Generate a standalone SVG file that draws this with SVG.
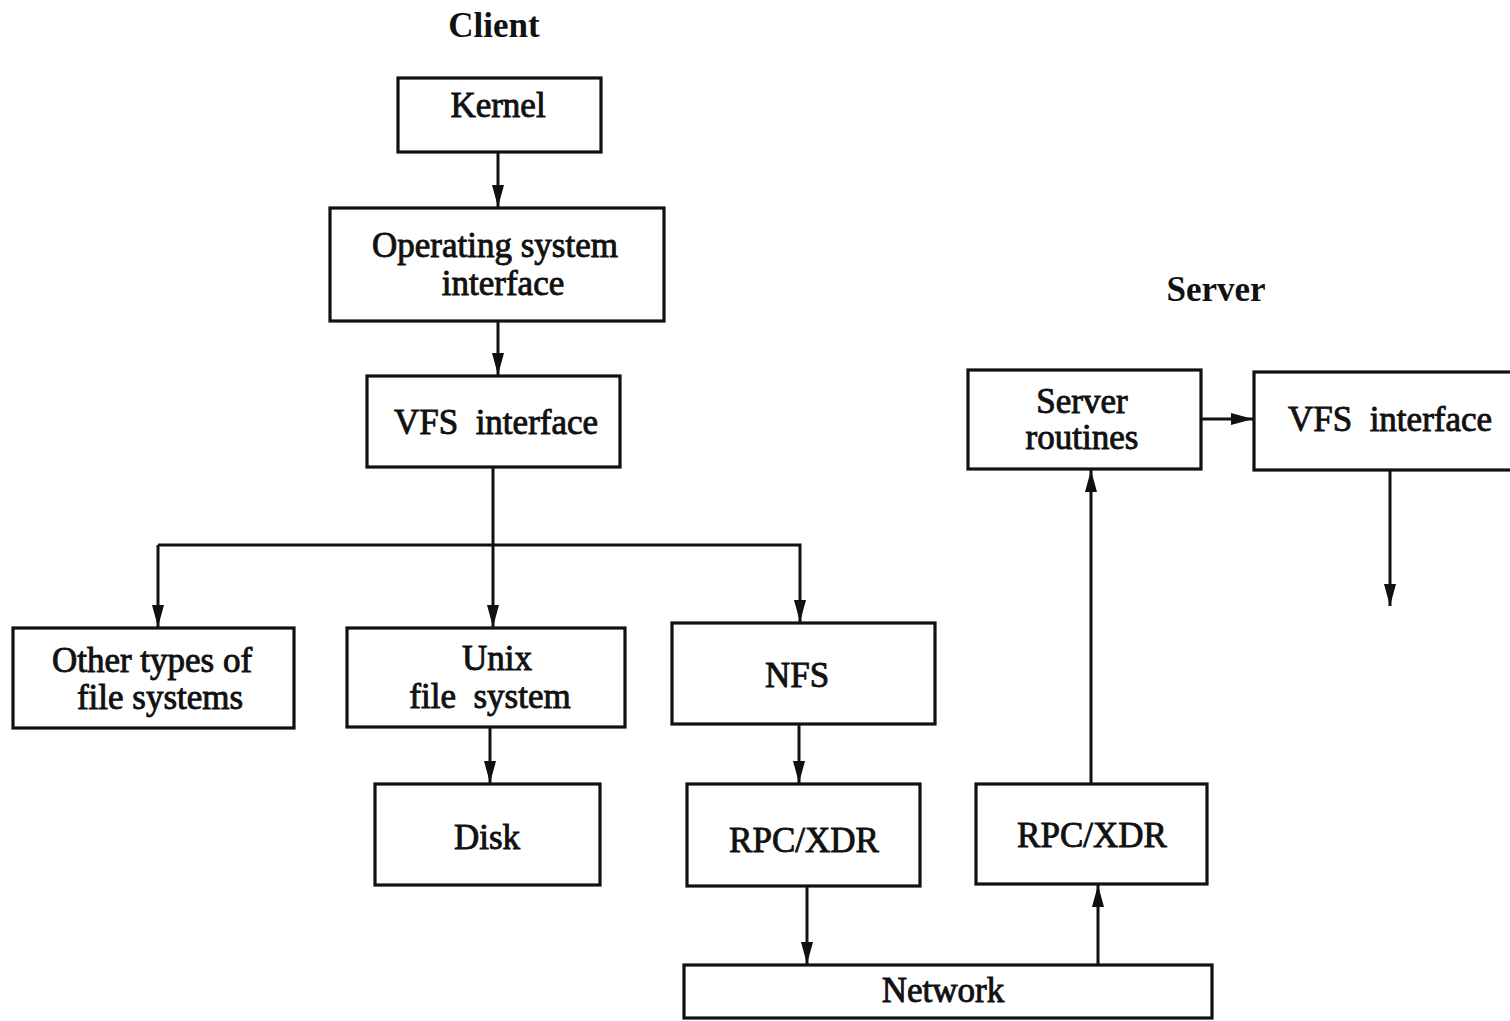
<svg xmlns="http://www.w3.org/2000/svg" width="1510" height="1021" viewBox="0 0 1510 1021">
<style>
.box{fill:#fff;stroke:#111;stroke-width:3.2}
.t{font-family:"Liberation Serif","Times New Roman",serif;font-size:35px;fill:#111;text-anchor:middle;stroke:#111;stroke-width:0.9}
.title{font-family:"Liberation Serif","Times New Roman",serif;font-size:35px;font-weight:bold;fill:#111;text-anchor:middle}
.c{fill:none;stroke:#111;stroke-width:3}
</style>
<defs>
<marker id="ah" viewBox="0 0 22 12" refX="22" refY="6" markerWidth="22" markerHeight="12" markerUnits="userSpaceOnUse" orient="auto">
<path d="M0,0 L22,6 L0,12 Z" fill="#111"/>
</marker>
</defs>
<rect width="1510" height="1021" fill="#fff"/>
<text class="title" x="494" y="37">Client</text>
<text class="title" x="1216" y="301">Server</text>
<g id="kernel"><rect class="box" x="398" y="78" width="203" height="74"/><text class="t" x="498" y="117">Kernel</text></g>
<g id="osi"><rect class="box" x="330" y="208" width="334" height="113"/><text class="t" x="495" y="257">Operating system</text><text class="t" x="503" y="295">interface</text></g>
<g id="vfs-client"><rect class="box" x="367" y="376" width="253" height="91"/><text class="t" x="496" y="434" xml:space="preserve">VFS  interface</text></g>
<g id="other"><rect class="box" x="13" y="628" width="281" height="100"/><text class="t" x="152" y="672">Other types of</text><text class="t" x="160" y="709">file systems</text></g>
<g id="unix"><rect class="box" x="347" y="628" width="278" height="99"/><text class="t" x="497" y="670">Unix</text><text class="t" x="490" y="708" xml:space="preserve">file  system</text></g>
<g id="nfs"><rect class="box" x="672" y="623" width="263" height="101"/><text class="t" x="797" y="687">NFS</text></g>
<g id="disk"><rect class="box" x="375" y="784" width="225" height="101"/><text class="t" x="487" y="849">Disk</text></g>
<g id="rpc-client"><rect class="box" x="687" y="784" width="233" height="102"/><text class="t" x="804" y="852">RPC/XDR</text></g>
<g id="rpc-server"><rect class="box" x="976" y="784" width="231" height="100"/><text class="t" x="1092" y="847">RPC/XDR</text></g>
<g id="network"><rect class="box" x="684" y="965" width="528" height="53"/><text class="t" x="943" y="1002">Network</text></g>
<g id="server-routines"><rect class="box" x="968" y="370" width="233" height="99"/><text class="t" x="1082" y="413">Server</text><text class="t" x="1082" y="449">routines</text></g>
<g id="vfs-server"><rect class="box" x="1254" y="372" width="262" height="98"/><text class="t" x="1390" y="431" xml:space="preserve">VFS  interface</text></g>
<g id="connectors">
<line class="c" x1="498" y1="152" x2="498" y2="207" marker-end="url(#ah)"/>
<line class="c" x1="498" y1="321" x2="498" y2="375" marker-end="url(#ah)"/>
<polyline class="c" points="493,467 493,545"/>
<polyline class="c" points="158,545 800,545 800,622" marker-end="url(#ah)"/>
<line class="c" x1="158" y1="545" x2="158" y2="627" marker-end="url(#ah)"/>
<line class="c" x1="493" y1="545" x2="493" y2="627" marker-end="url(#ah)"/>
<line class="c" x1="490" y1="727" x2="490" y2="783" marker-end="url(#ah)"/>
<line class="c" x1="799" y1="724" x2="799" y2="783" marker-end="url(#ah)"/>
<line class="c" x1="807" y1="886" x2="807" y2="964" marker-end="url(#ah)"/>
<line class="c" x1="1098" y1="965" x2="1098" y2="885" marker-end="url(#ah)"/>
<line class="c" x1="1091" y1="784" x2="1091" y2="470" marker-end="url(#ah)"/>
<line class="c" x1="1201" y1="419" x2="1253" y2="419" marker-end="url(#ah)"/>
<line class="c" x1="1390" y1="470" x2="1390" y2="606" marker-end="url(#ah)"/>
</g>
</svg>
